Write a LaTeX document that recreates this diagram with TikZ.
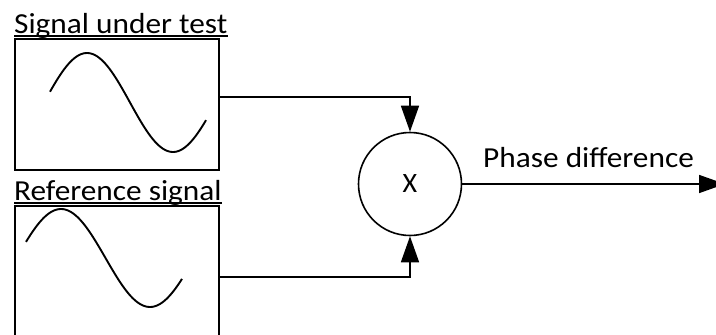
\documentclass[tikz,border=0pt]{standalone}
\usepackage{fontspec}
\setmainfont{Carlito}
\usetikzlibrary{arrows.meta}
\tikzset{
  sigbox/.style={draw, line width=2pt, inner sep=0pt, minimum width=204pt, anchor=north west},
  conn/.style={line width=1.6pt, -{Triangle[length=26pt,width=18pt]}},
  wave/.style={line width=1.9pt, smooth, samples=80},
  lbl/.style={inner sep=0pt, anchor=base west, font=\fontsize{29}{34}\selectfont},
  uline/.style={line width=1.3pt},
}
\newcommand{\wide}[1]{\scalebox{1.08}[1]{#1}}
\begin{document}
\begin{tikzpicture}[x=1pt,y=-1pt]
\clip (0,0) rectangle (716,335);
% boxes
\node[sigbox, minimum height=131pt] (topbox) at (14,38) {};
\node[sigbox, minimum height=160pt] (botbox) at (14,205) {};
% waves
\draw[wave, domain=50:206] plot ({\x},{102.5-49.5*cos(2.093*(\x-87))});
\draw[wave, domain=26:182] plot ({\x},{258-49*cos(2.0225*(\x-61))});
% labels
\node[lbl] (lsig) at (14,33) {\wide{Signal under test}};
\draw[uline] ([yshift=-3pt]lsig.base west) -- ([yshift=-3pt]lsig.base east);
\node[lbl] (lref) at (14,200) {\wide{Reference signal}};
\draw[uline] ([yshift=-3pt]lref.base west) -- ([yshift=-3pt]lref.base east);
% multiplier
\node[draw, circle, line width=1.6pt, minimum size=103pt, inner sep=0pt, font=\fontsize{28}{32}\selectfont] (mult) at (410,184) {X};
% connectors
\coordinate (t1) at (218,97);
\coordinate (b1) at (218,277);
\coordinate (out) at (725,184);
\draw[conn] (t1) -| (mult.north);
\draw[conn] (b1) -| (mult.south);
\draw[conn] (mult.east) -- (out);
\node[lbl] (phase) at (483,167) {\wide{Phase difference}};
\end{tikzpicture}
\end{document}
